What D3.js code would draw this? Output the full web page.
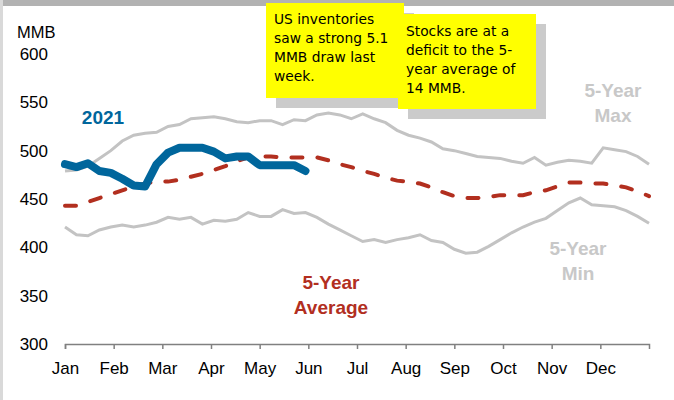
<!DOCTYPE html>
<html>
<head>
<meta charset="utf-8">
<script src="https://cdn.jsdelivr.net/npm/d3@7"></script>
<style>
  body { margin: 0; background: #fff; }
  svg { display: block; }
  text { font-family: "Liberation Sans", Arial, sans-serif; }
  .note { font-family: "DejaVu Sans", sans-serif; font-size: 13.8px; fill: #000; }
</style>
</head>
<body>
<svg width="674" height="400"></svg>
<script>
// data (weekly, MMB)
const months = ['Jan','Feb','Mar','Apr','May','Jun','Jul','Aug','Sep','Oct','Nov','Dec'];
const yTicks = [300, 350, 400, 450, 500, 550, 600];

const max5 = [479,480,484,492,500,510,516,518,519,525,527,533,534,535,533,530,
    529,531,531,527,532,531,537,539,537,533,538,533,529,521,516,513,509,502,500,
    497,494,493,492,489,487,493,485,488,490,489,487,503,501,499,494,486];
const min5 = [421,413,412,418,421,423,421,423,426,431,429,431,424,428,427,429,
    436,432,432,439,435,436,431,424,418,412,406,408,405,408,410,413,407,405,398,
    394,395,401,408,415,421,426,430,438,446,451,444,443,442,438,432,425];
const avg5 = [443,443,447,451,455,459,463,466,468,468,470,473,476,480,484,489,
    493,494,494,493,493,493,493,490,486,483,479,476,472,469,468,466,462,457,453,
    451,451,452,454,454,454,457,459,463,467,467,466,466,464,462,458,453];
const y2021 = [486,483,487,479,477,471,464,463,486,498,503,503,503,499,492,494,
    494,485,485,485,485,479];

const note1 = ['US inventories', 'saw a strong 5.1', 'MMB draw last', 'week.'];
const note2 = ['Stocks are at a', 'deficit to the 5-', 'year average of', '14 MMB.'];

const svg = d3.select('svg');

// frame
svg.append('rect').attr('x', 0).attr('y', 0).attr('width', 674).attr('height', 6).attr('fill', '#b2b2b2');
svg.append('rect').attr('x', 0).attr('y', 0).attr('width', 3).attr('height', 400).attr('fill', '#d9d9d9');

// scales: x in months (0 = Jan 1, 12 = end of Dec)
const x = d3.scaleLinear().domain([0, 12]).range([65, 649]);
const y = d3.scaleLinear().domain([300, 600]).range([344, 54]);
const wk = i => x(i * 12 / 51);

// y labels
svg.append('g').selectAll('text').data(yTicks).enter().append('text')
    .attr('x', 48).attr('y', d => y(d)).attr('dy', '0.35em')
    .attr('text-anchor', 'end').style('font-size', '17px').attr('fill', '#000')
    .text(d => d);
svg.append('text').attr('x', 17).attr('y', 38).style('font-size', '16.5px').text('MMB');

// x axis
const xAxis = d3.axisBottom(x).tickValues(d3.range(12)).tickSize(5).tickFormat(i => months[i]);
const gx = svg.append('g').attr('transform', 'translate(0,344)').call(xAxis);
gx.select('.domain').attr('stroke', '#808080').attr('stroke-width', 1.5);
gx.selectAll('.tick line').attr('stroke', '#808080').attr('stroke-width', 1.5);
gx.selectAll('.tick text').style('font-size', '17px').attr('fill', '#000')
    .attr('font-family', '"Liberation Sans", Arial, sans-serif').attr('y', 18);

const line = d3.line().x((d, i) => wk(i)).y(d => y(d));

svg.append('path').datum(max5).attr('d', line)
    .attr('fill', 'none').attr('stroke', '#c3c3c3').attr('stroke-width', 3);
svg.append('path').datum(min5).attr('d', line)
    .attr('fill', 'none').attr('stroke', '#c3c3c3').attr('stroke-width', 3);
svg.append('path').datum(avg5).attr('d', line)
    .attr('fill', 'none').attr('stroke', '#b22f1f').attr('stroke-width', 4)
    .attr('stroke-dasharray', '11,15').attr('stroke-linecap', 'round');
svg.append('path').datum(y2021).attr('d', line)
    .attr('fill', 'none').attr('stroke', '#00669c').attr('stroke-width', 8)
    .attr('stroke-linecap', 'round').attr('stroke-linejoin', 'round');

// series labels
function label(lines, cx, cy, color) {
    const t = svg.append('text').attr('text-anchor', 'middle')
        .style('font-size', '19px').style('font-weight', 'bold').attr('fill', color);
    lines.forEach((s, i) => {
        t.append('tspan').attr('x', cx).attr('y', cy + i * 25).attr('dy', '0.35em').text(s);
    });
}
label(['2021'], 103, 117, '#00669c');
label(['5-Year', 'Max'], 613, 90, '#c8c8c8');
label(['5-Year', 'Min'], 578, 248, '#c8c8c8');
label(['5-Year', 'Average'], 331, 282, '#b22f1f');

// annotation boxes
function note(lines, bx, by, w, h, tx, ty) {
    svg.append('rect').attr('x', bx + 10).attr('y', by + 10).attr('width', w).attr('height', h).attr('fill', '#cbcbcb');
    svg.append('rect').attr('x', bx).attr('y', by).attr('width', w).attr('height', h).attr('fill', '#ffff00');
    const t = svg.append('text').attr('class', 'note');
    lines.forEach((s, i) => {
        t.append('tspan').attr('x', tx).attr('y', ty + i * 19).attr('dy', '0.35em').text(s);
    });
}
note(note1, 266, 3, 138, 95, 274, 19);
note(note2, 398, 14, 138, 95, 406, 31);
</script>
</body>
</html>
